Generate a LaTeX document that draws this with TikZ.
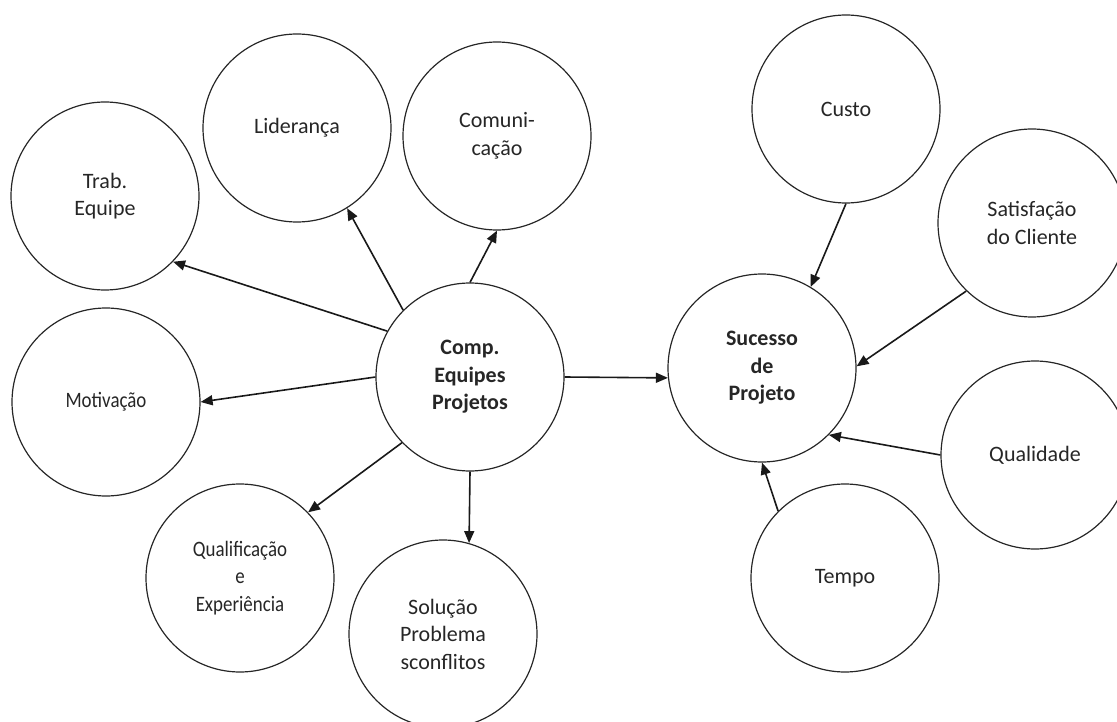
\documentclass[tikz,border=0pt]{standalone}
\usepackage{fontspec}
\setmainfont{Carlito}
\usetikzlibrary{arrows.meta}
\tikzset{
  bubble/.style={draw=black!85, line width=1.2pt, circle, minimum size=188pt, inner sep=0pt,
    align=center, text=black!85, font=\fontsize{22pt}{27.5pt}\selectfont},
  link/.style={line width=1.6pt, draw=black!90, -{Triangle[length=12pt,width=10pt]}}
}
\newcommand{\cond}[1]{\scalebox{0.86}[1]{#1}}
\begin{document}
\begin{tikzpicture}[x=1pt,y=-1pt]
\useasboundingbox (0,0) rectangle (1117,722);
\clip (0,0) rectangle (1117,722);
\node[bubble] (trab)  at (105,196) {Trab.\\Equipe};
\node[bubble] (lid)   at (297,128) {Liderança};
\node[bubble] (com)   at (497,136) {Comuni-\\cação};
\node[bubble] (mot)   at (106,402) {\cond{Motivação}};
\node[bubble, font=\fontsize{22pt}{27.5pt}\bfseries\selectfont] (comp) at (470,377) {Comp.\\Equipes\\Projetos};
\node[bubble] (qual)  at (240,578) {\cond{Qualificação}\\\cond{e}\\\cond{Experiência}};
\node[bubble] (sol)   at (443,634) {Solução\\Problema\\sconflitos};
\node[bubble, font=\fontsize{22pt}{27.5pt}\bfseries\selectfont] (suc) at (762,368) {Sucesso\\de\\Projeto};
\node[bubble] (custo) at (846,109) {Custo};
\node[bubble] (sat)   at (1032,223) {Satisfação\\do Cliente};
\node[bubble] (qld)   at (1035,455) {Qualidade};
\node[bubble] (tempo) at (845,578) {Tempo};

\draw[link] (comp.151) -- (trab.-44);
\draw[link] (comp.180) -- (mot.0);
\draw[link] (comp.135) -- (lid.-58);
\draw[link] (comp.90) -- (com.-90);
\draw[link] (comp.224) -- (qual.44);
\draw[link] (comp.270) -- (sol.74);
\draw[link] (comp.0) -- (suc.186);
\draw[link] (custo.-90) -- (suc.59);
\draw[link] (sat.226) -- (suc.1);
\draw[link] (qld.180) -- (suc.-45);
\draw[link] (tempo.135) -- (suc.-90);
\end{tikzpicture}
\end{document}
